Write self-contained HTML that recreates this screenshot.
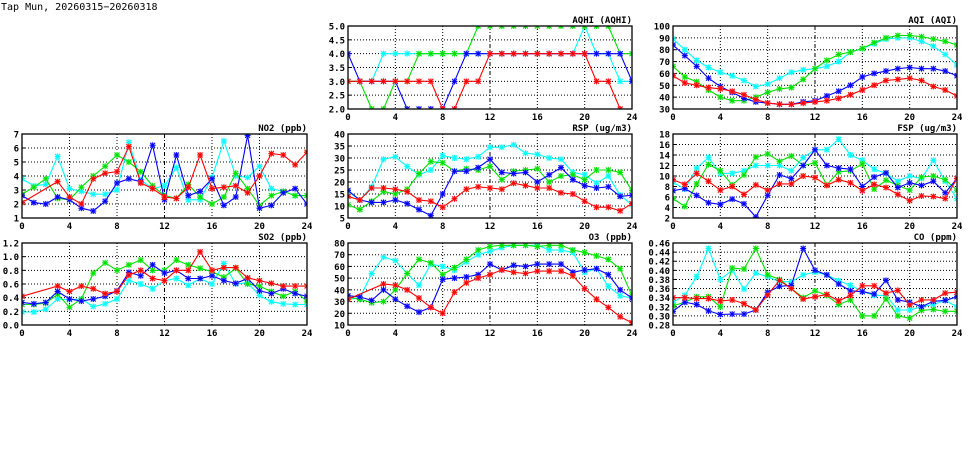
<!DOCTYPE html>
<html><head><meta charset="utf-8"><style>
body{margin:0;background:#fff;}
svg text{font-family:"DejaVu Sans Mono","Liberation Mono",monospace;font-weight:bold;fill:#000;}
</style></head><body>
<svg id="s" width="975" height="447" xmlns="http://www.w3.org/2000/svg">
<text x="1" y="10" font-size="10" style="font-weight:normal">Tap Mun, 20260315−20260318</text>
</svg>
<script>
const S=document.getElementById('s');const NS='http://www.w3.org/2000/svg';
function el(t,a,p){const e=document.createElementNS(NS,t);for(const k in a)e.setAttribute(k,a[k]);(p||S).appendChild(e);return e;}
const N=null;
const P=[
{t:'AQHI (AQHI)',x0:348,x1:632,y0:26,y1:109,lo:2,hi:5,st:.5,dp:1,d:[
[3,3,3,4,4,4,4,4,4,4,4,4,4,4,4,4,4,4,4,4,5,4,4,3,3],
[3,3,2,2,3,3,4,4,4,4,4,5,5,5,5,5,5,5,5,5,5,5,5,4,4],
[4,3,3,3,3,2,2,2,2,3,4,4,4,4,4,4,4,4,4,4,4,4,4,4,3],
[3,3,3,3,3,3,3,3,2,2,3,3,4,4,4,4,4,4,4,4,4,3,3,2,1.9]]},
{t:'AQI (AQI)',x0:673,x1:957,y0:26,y1:109,lo:30,hi:100,st:10,dp:0,d:[
[89,80,71,65,61,58,54,49,51,56,61,63,64,66,70,78,81,85,89,90,90,87,83,76,67],
[66,57,53,46,40,37,37,40,44,47,48,55,64,71,76,78,81,86,90,92,92,91,89,87,84],
[84,75,66,56,49,44,39,36,35,34,34,36,37,41,45,50,57,60,62,64,65,64,64,62,58],
[58,52,50,48,47,45,42,38,35,34,34,35,36,37,39,42,46,50,54,55,56,54,49,46,41]]},
{t:'NO2 (ppb)',x0:22,x1:307,y0:134,y1:218,lo:1,hi:7,st:1,dp:0,d:[
[3.8,3.3,3.4,5.4,3.1,2.9,2.7,2.7,3.0,6.4,3.7,3.1,3.3,4.6,2.3,2.3,3.9,6.5,4.0,3.9,4.7,3.1,2.9,2.6,2.6],
[2.7,3.2,3.8,2.4,2.3,3.2,4.0,4.7,5.5,5.0,4.3,3.3,2.6,2.4,3.4,2.5,2.0,2.5,4.2,3.1,1.9,2.6,2.9,2.6,2.6],
[2.6,2.1,2.0,2.5,2.3,1.7,1.5,2.2,3.5,3.8,3.6,6.2,2.3,5.5,2.6,2.9,3.8,1.9,2.5,6.9,1.7,1.9,2.8,3.1,2.0],
[2.1,N,N,3.6,2.5,2.0,3.8,4.2,4.3,6.1,3.5,3.1,2.5,2.4,3.2,5.5,3.1,3.2,3.3,2.8,4.0,5.6,5.5,4.8,5.7]]},
{t:'RSP (ug/m3)',x0:348,x1:632,y0:134,y1:218,lo:5,hi:40,st:5,dp:0,d:[
[16,12.5,18,29.5,30.5,26.5,23,25,31,30,29.5,30.5,34.5,34.5,35.5,32,31.5,30,29.5,24,23,19.5,22.5,14.5,10.5],
[10.5,8.5,12,16,15,17,23.5,28.5,28,24.5,25.5,25,26.5,21,24.5,25,25.5,20,22.5,23,21,25,25,24,16.5],
[16.5,12.5,11.5,11.5,12.5,11,8.5,6,15,24.5,24.5,26,29.5,24,23.5,24,20,23,26,21,18.5,17.5,18,14,14.5],
[14,12.5,17.5,17.5,17,16,12.5,12,9.5,13,17,18,17.5,17,19.5,18.5,17.5,17.5,15.5,15,12,9.5,9.5,8,11]]},
{t:'FSP (ug/m3)',x0:673,x1:957,y0:134,y1:218,lo:2,hi:18,st:2,dp:0,d:[
[8.8,7.5,11.5,13.5,10.5,10.5,11,12,12,12,11,13.5,15,15,17,14,13,11.3,10.5,9,10,9.5,13,9,5.7],
[5.7,4.2,8.5,12.2,11,8.3,10.2,13.6,14.2,12.8,13.8,12,12.5,8.3,10.8,11,12.3,7.5,9.2,8.2,7.3,9.8,10,9.3,7.3],
[7.2,7.6,6.3,4.9,4.6,5.6,4.7,2.2,6.3,10.2,9.5,12,15,12,11.5,11.3,8,9.8,10.6,7.8,8.7,8.2,9,6.8,9.5],
[9.3,8.4,10.5,9,7.3,8,6.5,8.3,7.3,8.5,8.5,10,9.7,8.2,9.3,8.7,7.2,8.4,7.8,6.5,5.3,6.2,6.1,5.7,9.5]]},
{t:'SO2 (ppb)',x0:22,x1:307,y0:243,y1:325,lo:0,hi:1.2,st:.2,dp:1,d:[
[.19,.19,.23,.38,.37,.38,.27,.31,.38,.65,.60,.53,.65,.68,.58,.68,.60,.90,.60,.62,.43,.34,.31,.30,.30],
[.30,.30,.32,.45,.26,.38,.76,.91,.80,.88,.95,.80,.80,.95,.88,.83,.78,.70,.83,.60,.57,.49,.42,.49,.35],
[.33,.31,.33,.49,.38,.35,.38,.42,.50,.77,.72,.88,.76,.80,.68,.68,.72,.65,.61,.68,.50,.46,.53,.46,.42],
[.42,N,N,.57,.49,.57,.53,.46,.49,.73,.80,.68,.65,.80,.80,1.07,.80,.84,.84,.69,.65,.61,.57,.57,.57]]},
{t:'O3 (ppb)',x0:348,x1:632,y0:243,y1:325,lo:10,hi:80,st:10,dp:0,d:[
[32,33,54,68,65,54,44,62,60,57,64,70,73,76,78,78,78,74,74,72,55,58,43,35,33],
[34,32,29,30,40,54,66,63,53,59,66,74,77,78,78,78,77,78,78,74,72,69,66,58,35],
[35,34,31,40,32,26,21,25,49,50,51,53,62,57,61,60,62,62,62,55,57,58,53,40,33],
[32,N,N,45,44,40,33,25,20,38,46,50,53,57,55,54,56,56,56,52,41,32,25,17,12]]},
{t:'CO (ppm)',x0:673,x1:957,y0:243,y1:325,lo:.28,hi:.46,st:.02,dp:2,d:[
[.33,.345,.386,.448,.38,.40,.359,.394,.386,.375,.375,.39,.396,.39,.377,.367,.354,.345,.345,.313,.313,.32,.325,.334,.32],
[.322,.33,.342,.342,.32,.405,.403,.448,.39,.38,.36,.34,.355,.345,.325,.335,.30,.30,.337,.30,.295,.312,.314,.31,.31],
[.31,.33,.325,.311,.303,.304,.304,.313,.352,.365,.367,.448,.40,.39,.37,.355,.353,.348,.378,.335,.33,.32,.332,.334,.342],
[.34,.34,.338,.338,.333,.335,.327,.313,.346,.378,.36,.337,.342,.347,.333,.345,.366,.366,.35,.356,.324,.335,.335,.35,.352]]}
];
const C=['#00ffff','#00e000','#0000ff','#ff0000'],CL=['#a0ffff','#a0ffa0','#a0a0ff','#ffa0a0'];
P.forEach((p,i)=>{
 const X=h=>p.x0+(p.x1-p.x0)*h/24,Y=v=>p.y1-(p.y1-p.y0)*(v-p.lo)/(p.hi-p.lo);
 const cp=el('clipPath',{id:'c'+i});el('rect',{x:p.x0,y:p.y0,width:p.x1-p.x0,height:p.y1-p.y0},cp);
 for(let h=4;h<24;h+=4)el('line',{x1:X(h),x2:X(h),y1:p.y0,y2:p.y1,stroke:'#000','stroke-width':1,'stroke-dasharray':h==12?'4,2,1,2':'1,2'});
 const n=Math.round((p.hi-p.lo)/p.st);
 for(let k=0;k<=n;k++){const v=p.lo+k*p.st,y=Y(v);
  if(k>0&&k<n)el('line',{x1:p.x0,x2:p.x1,y1:y,y2:y,stroke:'#000','stroke-dasharray':'1,2'});
  el('line',{x1:p.x0,x2:p.x0+3,y1:y,y2:y,stroke:'#000'});
  const t=el('text',{x:p.x0-3,y:y+3.5,'font-size':9,'text-anchor':'end'});t.textContent=v.toFixed(p.dp);}
 for(let h=0;h<=24;h+=4){const t=el('text',{x:X(h),y:p.y1+11,'font-size':9,'text-anchor':'middle'});t.textContent=h;}
 const tt=el('text',{x:p.x1,y:p.y0-3,'font-size':9,'text-anchor':'end'});tt.textContent=p.t;
 const g=el('g',{'clip-path':'url(#c'+i+')'});
 p.d.forEach((s,j)=>{let pts=[];s.forEach((v,h)=>{if(v!==null)pts.push(X(h).toFixed(1)+','+Y(v).toFixed(1));});
  el('polyline',{points:pts.join(' '),fill:'none',stroke:C[j],'stroke-width':1.1},g);
  s.forEach((v,h)=>{if(v===null)return;const x=X(h),y=Y(v);
   el('rect',{x:x-2.5,y:y-2.5,width:5,height:5,fill:CL[j],opacity:.7},g);
   el('path',{d:`M${x-2.5} ${y-2.5}L${x+2.5} ${y+2.5}M${x-2.5} ${y+2.5}L${x+2.5} ${y-2.5}M${x-3} ${y}H${x+3}M${x} ${y-3}V${y+3}`,stroke:C[j],'stroke-width':1},g);});
 });
 el('rect',{x:p.x0,y:p.y0,width:p.x1-p.x0,height:p.y1-p.y0,fill:'none',stroke:'#000','stroke-width':1.3});
});
</script>
</body></html>
